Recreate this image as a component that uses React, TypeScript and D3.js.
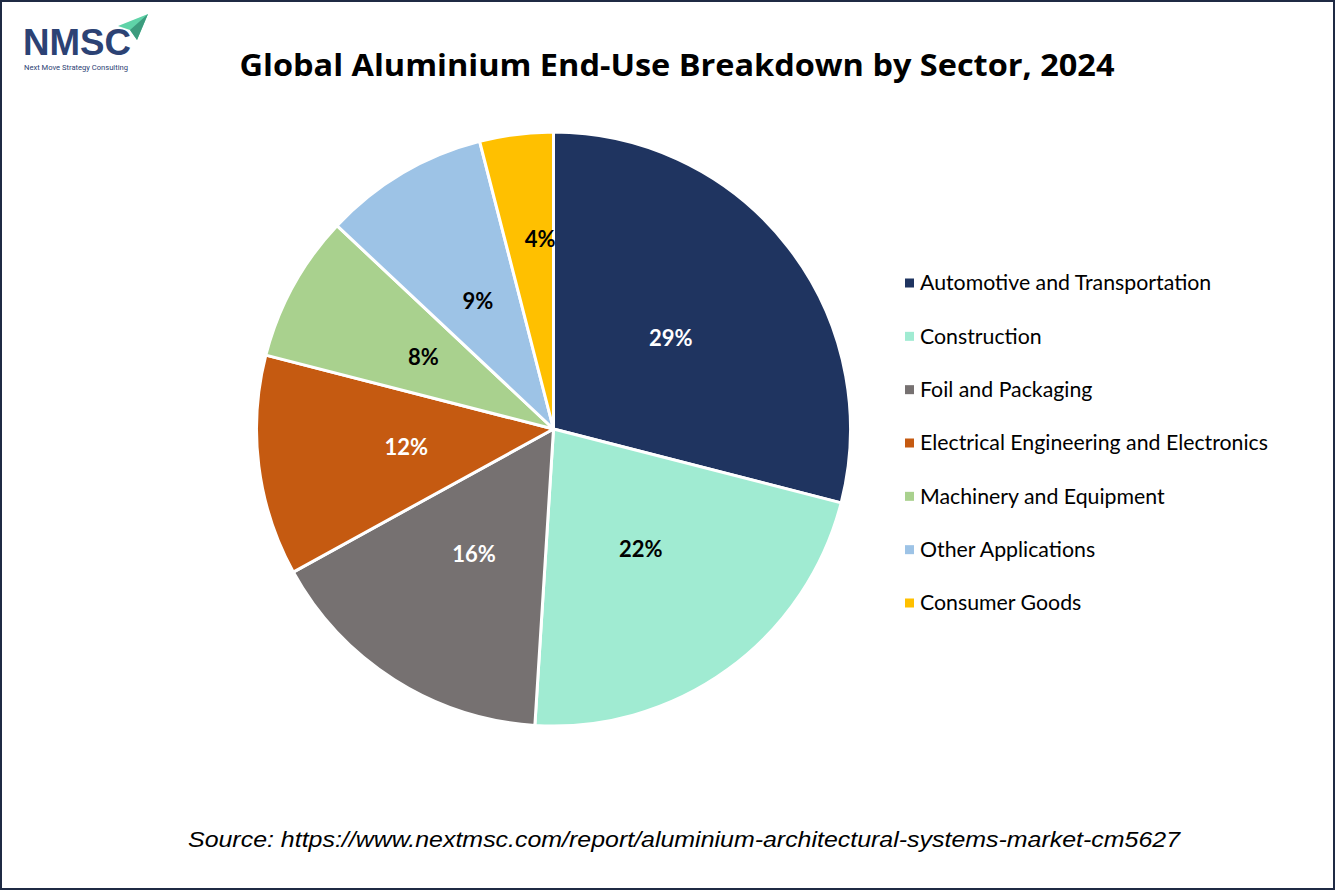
import { useRef, useEffect } from 'react'
import * as d3 from 'd3'

const sectors = [
  'Automotive and Transportation',
  'Construction',
  'Foil and Packaging',
  'Electrical Engineering and Electronics',
  'Machinery and Equipment',
  'Other Applications',
  'Consumer Goods',
]
const shares = [29, 22, 16, 12, 8, 9, 4]
const colors = ['#1F3460', '#A0EBD2', '#767171', '#C55A11', '#A9D18E', '#9DC3E6', '#FFC000']
const labelColors = ['#fff', '#000', '#fff', '#fff', '#000', '#000', '#000']

const W = 1335
const H = 890

const App = () => {
  const svgRef = useRef<SVGSVGElement>(null)

  useEffect(() => {
    if (!svgRef.current) return
    const svg = d3.select(svgRef.current)
    svg.selectAll('*').remove()

    svg.append('rect')
      .attr('x', 1).attr('y', 1)
      .attr('width', W - 2).attr('height', H - 2)
      .attr('fill', '#fff')
      .attr('stroke', '#1F2A44')
      .attr('stroke-width', 2)

    // logo
    const logo = svg.append('g')
    logo.append('polygon')
      .attr('points', '148,14 118,26 130,30 137,40')
      .attr('fill', '#5FD3A8')
    logo.append('polygon')
      .attr('points', '148,14 130,30 137,40')
      .attr('fill', '#3C9C7E')
    logo.append('text')
      .attr('x', 23).attr('y', 55)
      .attr('font-family', 'Liberation Sans')
      .attr('font-weight', 'bold')
      .attr('font-size', 37)
      .attr('textLength', 108)
      .attr('lengthAdjust', 'spacingAndGlyphs')
      .attr('fill', '#2C4274')
      .text('NMSC')
    logo.append('text')
      .attr('x', 24).attr('y', 70)
      .attr('font-family', 'Roboto')
      .attr('font-size', 7.5)
      .attr('textLength', 104)
      .attr('lengthAdjust', 'spacingAndGlyphs')
      .attr('fill', '#2C4274')
      .text('Next Move Strategy Consulting')

    // title
    svg.append('text')
      .attr('x', 677).attr('y', 76)
      .attr('text-anchor', 'middle')
      .attr('font-family', 'Open Sans')
      .attr('font-weight', 'bold')
      .attr('font-size', 31)
      .attr('textLength', 875)
      .attr('lengthAdjust', 'spacingAndGlyphs')
      .attr('fill', '#000')
      .text('Global Aluminium End-Use Breakdown by Sector, 2024')

    const cx = 553.5
    const cy = 429
    const r = 297

    const pie = d3.pie<number>().sort(null).value((d) => d)
    const arcs = pie(shares)
    const arc = d3.arc<d3.PieArcDatum<number>>().innerRadius(0).outerRadius(r)

    const g = svg.append('g').attr('transform', `translate(${cx},${cy})`)

    g.selectAll('path')
      .data(arcs)
      .join('path')
      .attr('d', arc)
      .attr('fill', (_, i) => colors[i])
      .attr('stroke', '#fff')
      .attr('stroke-width', 3)
      .attr('stroke-linejoin', 'round')

    g.selectAll('text')
      .data(arcs)
      .join('text')
      .attr('transform', (d) => {
        // small slices get pushed outward a bit
        const lr = d.data < 5 ? r * 0.64 : r * 0.5
        const a = (d.startAngle + d.endAngle) / 2 + (d.data < 5 ? 0.055 : 0)
        return `translate(${lr * Math.sin(a)},${-lr * Math.cos(a)})`
      })
      .attr('text-anchor', 'middle')
      .attr('dy', '0.35em')
      .attr('font-family', 'Lato')
      .attr('font-weight', 'bold')
      .attr('font-size', 22)
      .attr('fill', (_, i) => labelColors[i])
      .text((d) => `${d.data}%`)

    // legend
    const rowY = d3.scalePoint<string>().domain(sectors).range([283, 603])
    const legend = svg.append('g')
    const rows = legend.selectAll('g')
      .data(sectors)
      .join('g')
      .attr('transform', (d) => `translate(905,${rowY(d)})`)
    rows.append('rect')
      .attr('x', 0).attr('y', -4.5)
      .attr('width', 9).attr('height', 9)
      .attr('fill', (_, i) => colors[i])
    rows.append('text')
      .attr('x', 15)
      .attr('dy', '0.35em')
      .attr('font-family', 'Lato')
      .attr('font-size', 21.3)
      .attr('fill', '#000')
      .text((d) => d)

    // source
    svg.append('text')
      .attr('x', 684).attr('y', 847)
      .attr('text-anchor', 'middle')
      .attr('font-family', 'Liberation Sans')
      .attr('font-style', 'italic')
      .attr('font-size', 22)
      .attr('textLength', 992)
      .attr('lengthAdjust', 'spacingAndGlyphs')
      .attr('fill', '#000')
      .text('Source: https://www.nextmsc.com/report/aluminium-architectural-systems-market-cm5627')
  }, [])

  return (
    <svg
      ref={svgRef}
      width={W}
      height={H}
      style={{ position: 'absolute', left: 0, top: 0, display: 'block' }}
    />
  )
}

export default App
